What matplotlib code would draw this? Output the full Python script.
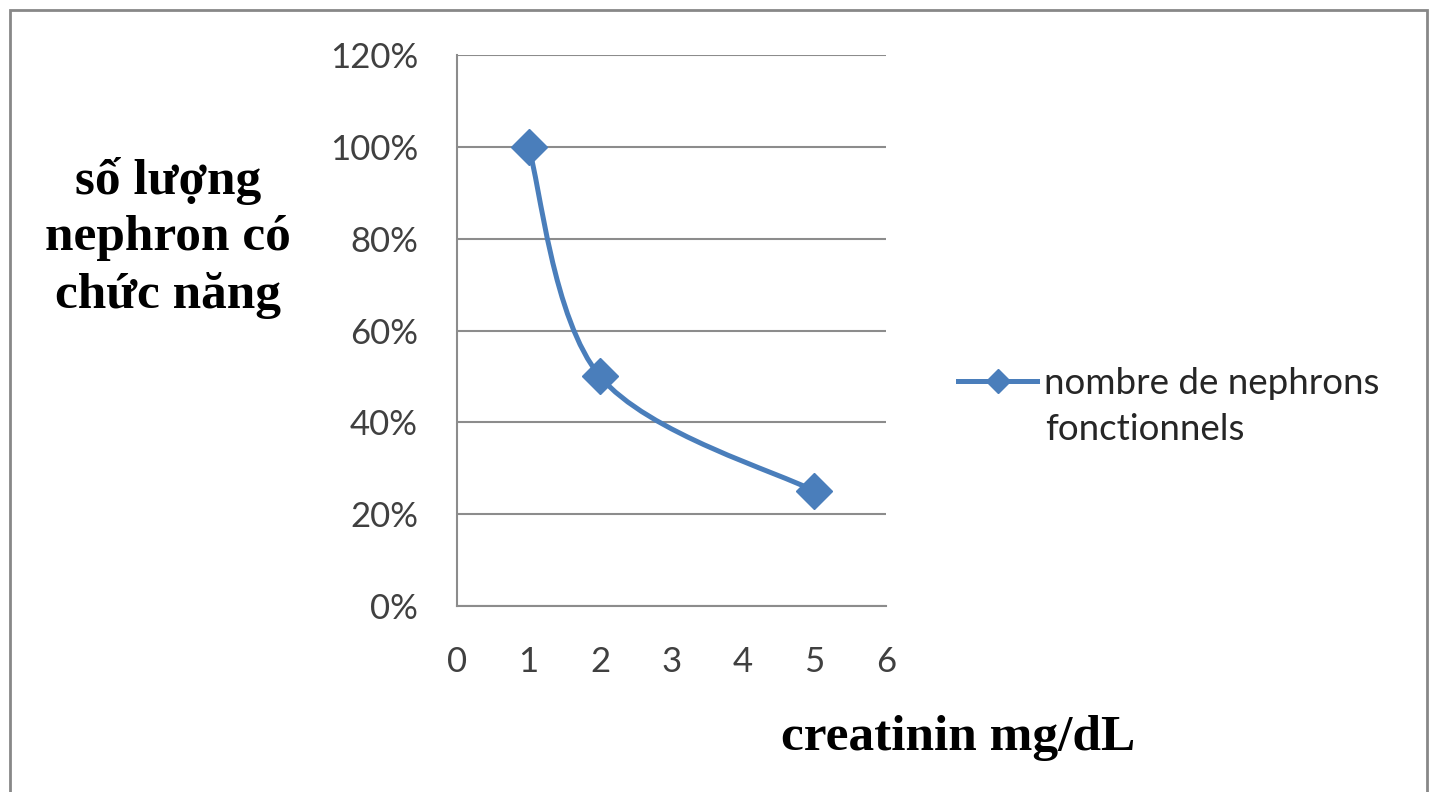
import numpy as np
import matplotlib
matplotlib.use('Agg')
import matplotlib.pyplot as plt
from matplotlib.path import Path
from matplotlib.patches import PathPatch, Rectangle
from matplotlib.lines import Line2D
from matplotlib.ticker import FuncFormatter

# data
creatinin = [1, 2, 5]
nephrons = [1.00, 0.50, 0.25]
series_name = ['nombre de nephrons', 'fonctionnels']
x_label = 'creatinin mg/dL'
y_label = 'số lượng\nnephron có\nchức năng'

blue = '#4A7EBB'
grid_gray = '#8C8C8C'

fig = plt.figure(figsize=(14.35, 7.92), dpi=100)
ax = fig.add_axes([457 / 1435, 1 - 606 / 792, 429 / 1435, 551 / 792])

# excel style smoothed line: bezier segments through the points
def smooth_path(xs, ys):
    pts = np.column_stack([xs, ys]).astype(float)
    n = len(pts)
    verts = [pts[0]]
    codes = [Path.MOVETO]
    for i in range(n - 1):
        p_prev = pts[i - 1] if i > 0 else pts[i]
        p_next = pts[i + 2] if i + 2 < n else pts[i + 1]
        c1 = pts[i] + (pts[i + 1] - p_prev) / 6
        c2 = pts[i + 1] - (p_next - pts[i]) / 6
        verts += [c1, c2, pts[i + 1]]
        codes += [Path.CURVE4] * 3
    return Path(verts, codes)

ax.add_patch(PathPatch(smooth_path(creatinin, nephrons), facecolor='none',
                       edgecolor=blue, lw=3.6, capstyle='round', zorder=3))
ax.plot(creatinin, nephrons, ls='none', marker='D', ms=18, color=blue, zorder=4)

ax.set_xlim(0, 6)
ax.set_ylim(0, 1.2)
ax.set_xticks(range(0, 7))
ax.set_yticks(np.arange(0, 1.21, 0.2))
ax.yaxis.set_major_formatter(FuncFormatter(lambda v, p: '%d%%' % round(v * 100)))
ax.grid(axis='y', color=grid_gray, lw=1.5)
ax.set_axisbelow(True)
for s in ['top', 'right']:
    ax.spines[s].set_visible(False)
for s in ['left', 'bottom']:
    ax.spines[s].set_color(grid_gray)
    ax.spines[s].set_linewidth(1.5)
ax.tick_params(length=0, labelsize=25, colors='#404040')
ax.tick_params(axis='y', pad=28)
ax.tick_params(axis='x', pad=29)
for lab in ax.get_xticklabels() + ax.get_yticklabels():
    lab.set_family('Lato')

fig.text(168 / 1435, 1 - 238 / 792, y_label, family='Liberation Serif', weight='bold',
         fontsize=37, ha='center', va='center', linespacing=1.3)
fig.text(958 / 1435, 1 - 738 / 792, x_label, family='Liberation Serif', weight='bold',
         fontsize=37, ha='center', va='center')

# legend: handle sits on the first line of the name, second line below
handle = Line2D([], [], color=blue, lw=3.6, marker='D', ms=12)
fig.legend([handle], [series_name[0]], loc='center left', bbox_to_anchor=(958 / 1435, 1 - 383 / 792),
           frameon=False, prop={'family': 'Lato', 'size': 26.5}, handlelength=2.15,
           handletextpad=0.2, borderpad=0, borderaxespad=0, labelcolor='#262626')
fig.text(1045 / 1435, 1 - 430 / 792, series_name[1], family='Lato', fontsize=26.5,
         color='#262626', ha='left', va='center')

# outer chart border
fig.add_artist(Rectangle((10 / 1435, -0.01), 1417 / 1435, 1 - 10 / 792 + 0.01,
                         transform=fig.transFigure, fill=False, ec='#888888', lw=2))

fig.savefig('out.png', dpi=100)
